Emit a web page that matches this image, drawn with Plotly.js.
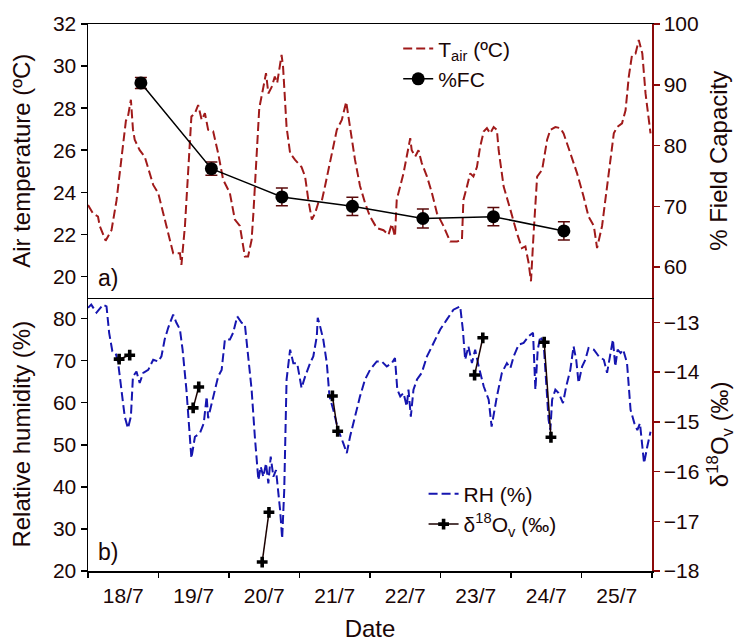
<!DOCTYPE html>
<html><head><meta charset="utf-8">
<script src="https://cdn.plot.ly/plotly-3.0.1.min.js"></script>
<style>html,body{margin:0;padding:0;background:#fff}#chart{width:739px;height:642px}</style>
</head><body><div id="chart"></div>
<script>
// Day labels (x axis); time is hours since 18/7 00:00
const dayLabels = ['18/7','19/7','20/7','21/7','22/7','23/7','24/7','25/7'];

// Air temperature (ºC)
const tairHours = [0,1.7,3.4,4,6,8,9.7,11.4,12.9,13.6,14.6,15.3,15.9,17.6,19.3,22.2,23.9,26.7,29,31.3,31.8,33,34.1,35.2,36.4,37.5,38.7,39.8,40.9,42.6,44.3,46,48.3,50,51.7,53.4,54.5,55.7,56.3,57.4,58.3,59.7,60.6,61.4,62.5,63.6,64.4,65.9,66.4,67.6,68.8,70.5,72.7,73.9,75,76.2,77.3,78.4,79.6,80.7,82.4,84.7,86.4,87.9,89.2,90.9,92.6,94.3,96,98.3,100.6,102.3,103.4,104.5,105.1,106.3,107.4,108.5,109.7,110.2,111.4,112.5,113.6,115.4,117.1,118.8,121,123.3,125.6,127.3,127.8,129,130.1,131.2,132.4,133.5,134.7,135.8,136.9,138.1,139.2,139.8,141.5,143.8,146,147.7,148.9,150,150.8,151.7,152.9,154.6,156.3,157.4,159.1,160.8,161.9,164.2,166.5,168.7,170.4,172.2,173.3,175,176.7,177.8,179,180.1,181.8,183,184.1,185.2,186.4,187.5,188.7,189.8,191.5];
const tairValues = [23.4,23.0,22.85,22.4,21.7,22.2,23.6,25.5,27.4,27.6,28.4,27.0,26.5,26.0,25.7,24.35,23.96,22.4,21.1,21.1,20.55,22.4,25.2,27.6,27.76,28.15,27.44,27.76,26.97,26.9,25.86,24.6,23.96,22.7,22.4,20.95,20.95,21.74,23.0,25.5,28.0,29.0,29.66,28.7,29.0,29.5,29.2,30.53,29.97,27.1,25.86,25.54,25.2,24.75,23.64,22.7,23.0,23.5,23.6,24.3,25.4,26.97,27.44,28.3,27.1,25.54,24.3,23.5,22.85,22.3,22.2,21.98,22.5,21.9,23.64,24.27,24.9,25.7,26.57,26.0,25.7,26.0,25.4,24.75,23.96,23.0,22.4,21.66,21.66,21.74,23.64,24.27,24.9,24.75,25.2,26.17,26.89,27.05,26.8,27.1,26.97,26.0,24.27,23.17,22.06,21.35,21.43,20.64,19.77,22.06,24.75,25.07,26.5,26.97,27.1,27.05,26.8,25.86,24.9,23.8,22.85,22.4,21.35,22.4,24.27,25.54,26.8,27.1,27.28,27.9,29.5,30.53,30.6,31.24,30.6,28.7,26.8];

// % Field capacity with error
const fcHours = [18,42,66,90,114,138,162];
const fcValues = [90.3,76.2,71.55,70.0,68.0,68.3,65.95];
const fcErrors = [0.9,1.1,1.45,1.5,1.55,1.5,1.5];

// Relative humidity (%)
const rhHours = [0,1.1,2.9,4,5.1,6.3,7.2,8.3,9.4,10.2,11.4,12.5,13.6,14.6,15.3,16.5,17.6,18.8,20.5,22.2,23.9,25,26.1,27.3,29,30.1,31.3,32.2,33.5,34.4,35.2,36.4,38.1,39.4,40.4,40.9,42.6,44.3,45.5,46.6,48.3,49.4,50.8,52.3,53.4,54.5,55.7,56.8,58,58.8,59.7,60.6,61.4,62.2,63.1,64,64.8,65.4,66.1,66.8,67.6,68.8,69.9,71.2,72.7,73.9,75.6,76.7,77.9,78.2,79,80.1,81.3,82.2,83.5,85.2,86.9,88.1,89.2,90.9,92.6,94.3,96,98.3,100,101.7,103.4,104.5,105.3,106.3,107.4,108.5,109.1,109.9,110.8,112,113.6,115.4,117.6,119.9,122.2,124.4,126.7,127.6,128.4,129.5,130.7,131.8,133,134.7,136.4,137.4,139.2,140.9,142.6,143.8,144.9,146.6,148.3,150,151.5,152.3,153.1,154,155.1,156.3,156.8,157.4,158,159.1,160.2,161.7,162.8,164.2,165.3,166.2,167,168.2,169.3,170.4,172.2,173.9,175.6,176.7,177.8,178.7,179.5,180.3,181.3,182.2,183.5,184.7,186,187,187.9,189.3,190.4,191.5];
const rhValues = [82.55,83.3,81.4,82.5,83.3,82.9,76.6,72.2,71.8,69.8,63.1,56.7,53.9,56.7,66.2,67.4,64.7,67.1,67.8,70.2,69.8,71.0,75.0,77.8,80.95,79.0,77.4,72.6,63.1,55.1,46.8,51.9,52.75,55.1,61.5,56.3,61.5,66.2,67.8,75.0,75.0,76.6,80.5,79.0,78.6,71.0,63.1,51.9,41.6,44.8,42.4,45.6,40.8,47.2,42.4,44.0,39.2,34.5,27.7,39.2,65.5,72.6,69.4,69.4,63.5,66.2,69.4,71.0,75.8,80.2,78.2,75.0,69.4,61.5,58.3,53.5,50.4,48.0,51.9,56.7,61.5,65.5,67.8,69.8,69.8,68.6,69.4,70.6,63.1,61.5,62.3,59.1,63.1,56.7,63.1,65.5,67.1,71.0,74.2,77.4,79.8,82.1,82.9,77.4,70.2,73.4,69.4,72.6,68.6,63.9,60.7,54.3,61.5,67.1,69.4,68.2,71.0,73.8,74.2,75.8,76.6,63.1,72.6,75.8,74.2,61.5,55.9,53.5,60.7,63.1,62.3,59.9,63.9,67.8,73.4,70.2,64.7,68.6,70.2,73.0,72.6,71.0,70.2,67.1,71.0,75.0,68.6,72.6,71.8,72.6,69.4,58.3,55.1,53.5,55.1,45.6,49.6,53.1];

// Vapour δ18O (‰), sampled in pairs (null separates pairs)
const d18oHours = [10.6,14.2,null,35.8,37.7,null,59.3,61.6,null,83.2,85.0,null,131.6,134.4,null,155.3,157.6];
const d18oValues = [-13.74,-13.66,null,-14.72,-14.30,null,-17.82,-16.82,null,-14.48,-15.19,null,-14.06,-13.31,null,-13.40,-15.31];

const FONT = '"Liberation Sans", Arial, sans-serif';
const TXT = '#1a0606';
const TRED = '#a01a1a';
const AXRED = '#8b0a0a';
const BLUE = '#1616b0';

const dayCenters = dayLabels.map((_, i) => 24 * i + 12);
const dayBounds = dayLabels.map((_, i) => 24 * i).concat([24 * dayLabels.length]);
const xRange = [0, 24 * dayLabels.length];

const traces = [
  {x: tairHours, y: tairValues, xaxis: 'x2', yaxis: 'y3', type: 'scatter', mode: 'lines',
   name: 'T<sub>air</sub> (ºC)', legend: 'legend',
   line: {color: TRED, width: 2, dash: '9px,4px'}},
  {x: fcHours, y: fcValues, xaxis: 'x2', yaxis: 'y4', type: 'scatter', mode: 'lines+markers',
   name: '%FC', legend: 'legend',
   line: {color: '#000', width: 1.5}, marker: {color: '#000', size: 13},
   error_y: {type: 'data', array: fcErrors, visible: true, color: '#5a0a0a', thickness: 1.5, width: 6}},
  {x: rhHours, y: rhValues, xaxis: 'x', yaxis: 'y', type: 'scatter', mode: 'lines',
   name: 'RH (%)', legend: 'legend2',
   line: {color: BLUE, width: 2, dash: '9px,4px'}},
  {x: d18oHours, y: d18oValues, xaxis: 'x', yaxis: 'y2', type: 'scatter', mode: 'lines+markers',
   name: 'δ<sup>18</sup>O<sub>v</sub> (‰)', legend: 'legend2', connectgaps: false,
   line: {color: '#1a0000', width: 1.5}, marker: {symbol: 'cross', size: 9, color: '#000'}}
];

const baseY = {
  ticks: 'outside', ticklen: 6, tickwidth: 1.5, showline: true, linewidth: 1.5,
  showgrid: false, zeroline: false, automargin: false, tickfont: {size: 21, color: TXT}
};

const layout = {
  width: 739, height: 642,
  margin: {l: 88, r: 87, t: 24, b: 71},
  paper_bgcolor: '#fff', plot_bgcolor: '#fff',
  font: {family: FONT, size: 21, color: TXT},
  showlegend: true,
  xaxis: {
    domain: [0, 1], anchor: 'y', range: xRange,
    tickmode: 'array', tickvals: dayCenters, ticktext: dayLabels,
    ticks: 'outside', ticklen: 5, tickcolor: 'rgba(0,0,0,0)',
    minor: {tickmode: 'array', tickvals: dayBounds, ticks: 'outside', ticklen: 5, tickwidth: 1.5, tickcolor: '#000', showgrid: false},
    showline: true, linecolor: '#000', linewidth: 1.5,
    showgrid: false, zeroline: false, automargin: false,
    tickfont: {size: 21, color: TXT},
    title: {text: 'Date', font: {size: 24, color: TXT}}
  },
  xaxis2: {
    domain: [0, 1], anchor: 'y3', matches: 'x', range: xRange,
    showticklabels: false, ticks: '', showline: true, mirror: true,
    linecolor: '#000', linewidth: 1.5, showgrid: false, zeroline: false
  },
  yaxis: Object.assign({}, baseY, {
    domain: [0, 0.5], anchor: 'x', range: [20, 85], tickmode: 'linear', tick0: 20, dtick: 10,
    linecolor: '#000', tickcolor: '#000',
    title: {text: 'Relative humidity (%)', font: {size: 24, color: TXT}}
  }),
  yaxis2: Object.assign({}, baseY, {
    overlaying: 'y', side: 'right', anchor: 'x', range: [-18, -12.5], tickmode: 'linear', tick0: -18, dtick: 1,
    linecolor: AXRED, tickcolor: AXRED, automargin: true,
    title: {text: 'δ<sup>18</sup>O<sub>v</sub> (‰)', font: {size: 24, color: TXT}, standoff: 12}
  }),
  yaxis3: Object.assign({}, baseY, {
    domain: [0.5, 1], anchor: 'x2', range: [19, 32], tickmode: 'linear', tick0: 20, dtick: 2,
    linecolor: '#000', tickcolor: '#000',
    title: {text: 'Air temperature (ºC)', font: {size: 24, color: TXT}}
  }),
  yaxis4: Object.assign({}, baseY, {
    overlaying: 'y3', side: 'right', anchor: 'x2', range: [55, 100], tickmode: 'linear', tick0: 60, dtick: 10,
    linecolor: AXRED, tickcolor: AXRED, automargin: true,
    title: {text: '% Field Capacity', font: {size: 24, color: TXT}, standoff: 12}
  }),
  legend: {x: 0.55, y: 0.992, xanchor: 'left', yanchor: 'top', bgcolor: 'rgba(0,0,0,0)',
           font: {size: 21, color: TXT}, tracegroupgap: 0},
  legend2: {x: 0.595, y: 0.178, xanchor: 'left', yanchor: 'top', bgcolor: 'rgba(0,0,0,0)',
            font: {size: 21, color: TXT}, tracegroupgap: 0},
  annotations: [
    {xref: 'paper', yref: 'paper', x: 0.014, y: 0.536, xanchor: 'left', yanchor: 'middle',
     text: 'a)', showarrow: false, font: {size: 23, color: TXT}},
    {xref: 'paper', yref: 'paper', x: 0.014, y: 0.035, xanchor: 'left', yanchor: 'middle',
     text: 'b)', showarrow: false, font: {size: 23, color: TXT}}
  ]
};

Plotly.newPlot('chart', traces, layout, {displayModeBar: false, staticPlot: true});
</script>
</body></html>
